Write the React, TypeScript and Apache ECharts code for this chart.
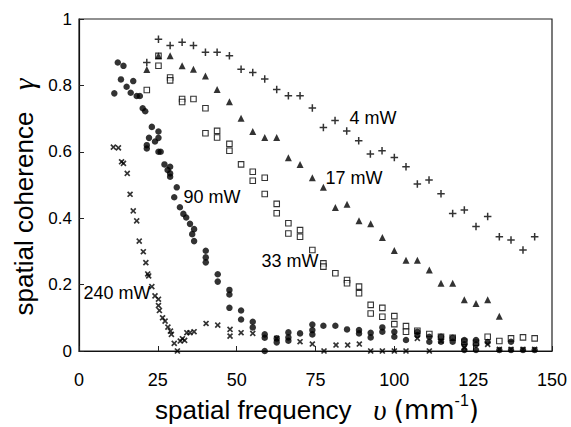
import React, { useEffect, useRef } from "react";
import * as echarts from "echarts";

// spatial frequency (mm^-1), spatial coherence gamma
const p4mW: number[][] = [
  [21.5, 0.869], [25.2, 0.939], [28.9, 0.92], [32.7, 0.93], [36.3, 0.92], [40.1, 0.9], [43.8, 0.9],
  [47.7, 0.889], [51.4, 0.849], [55.1, 0.839], [58.9, 0.819], [62.7, 0.788], [66.4, 0.769], [70.1, 0.769],
  [74.0, 0.732], [77.5, 0.673], [81.2, 0.694], [84.9, 0.663], [88.7, 0.633], [92.4, 0.593], [96.1, 0.603],
  [100.0, 0.583], [103.7, 0.555], [107.3, 0.503], [111.0, 0.515], [114.8, 0.474], [118.5, 0.414],
  [122.2, 0.425], [125.9, 0.375], [129.6, 0.405], [133.3, 0.344], [137.0, 0.334], [140.8, 0.304], [144.5, 0.344],
];

const p17mW: number[][] = [
  [21.5, 0.848], [25.2, 0.889], [28.9, 0.889], [32.7, 0.859], [36.3, 0.849], [40.1, 0.828], [43.8, 0.788],
  [47.7, 0.751], [51.4, 0.701], [55.1, 0.661], [58.9, 0.643], [62.7, 0.643], [66.4, 0.582], [70.1, 0.562],
  [74.0, 0.522], [77.5, 0.493], [81.3, 0.432], [85.0, 0.442], [88.8, 0.392], [92.5, 0.383], [96.2, 0.342],
  [100.0, 0.303], [103.7, 0.273], [107.3, 0.273], [111.1, 0.244], [114.8, 0.204], [118.5, 0.204],
  [122.2, 0.154], [125.9, 0.143], [129.6, 0.154], [133.3, 0.105],
];

const p33mW: number[][] = [
  [21.5, 0.786], [25.2, 0.859], [25.2, 0.889], [28.9, 0.824], [28.9, 0.815], [32.7, 0.759], [32.7, 0.75],
  [36.3, 0.759], [40.1, 0.731], [40.1, 0.656], [43.8, 0.663], [43.8, 0.643], [47.7, 0.624], [47.7, 0.603],
  [51.4, 0.562], [55.1, 0.54], [55.1, 0.513], [58.9, 0.522], [58.9, 0.473], [62.7, 0.443], [62.7, 0.415],
  [66.4, 0.385], [66.4, 0.354], [70.1, 0.364], [70.1, 0.344], [74.0, 0.304], [77.5, 0.264], [77.5, 0.254],
  [81.3, 0.234], [85.0, 0.214], [85.0, 0.204], [88.8, 0.194], [88.8, 0.174], [92.5, 0.139], [92.5, 0.113],
  [96.2, 0.13], [96.2, 0.103], [100.0, 0.105], [100.0, 0.081], [103.7, 0.075], [103.7, 0.058], [107.3, 0.061],
  [111.1, 0.051], [114.8, 0.043], [118.5, 0.04], [122.2, 0.028], [125.9, 0.025], [129.6, 0.043],
  [133.3, 0.03], [137.0, 0.038], [140.8, 0.041], [144.5, 0.038],
];

const p90mW: number[][] = [
  [11.2, 0.776], [12.3, 0.869], [13.3, 0.818], [14.1, 0.859], [15.1, 0.796], [16.4, 0.778], [17.2, 0.813],
  [18.3, 0.768], [19.3, 0.768], [20.2, 0.731], [21.0, 0.722], [21.5, 0.62], [21.5, 0.61], [22.2, 0.642],
  [23.1, 0.675], [24.1, 0.631], [25.2, 0.661], [25.2, 0.642], [25.2, 0.6], [25.9, 0.6], [27.1, 0.562],
  [28.1, 0.545], [28.9, 0.555], [28.9, 0.535], [28.9, 0.525], [31.0, 0.493], [30.2, 0.463], [32.0, 0.433],
  [33.1, 0.413], [34.0, 0.402], [35.2, 0.383], [36.5, 0.367], [35.9, 0.352], [36.5, 0.331], [40.2, 0.302],
  [40.2, 0.282], [40.2, 0.267], [44.0, 0.231], [44.0, 0.209], [47.7, 0.184], [47.7, 0.17], [47.7, 0.13],
  [51.4, 0.122], [51.4, 0.095], [55.1, 0.088], [55.1, 0.071], [58.9, 0.05], [58.9, 0.04], [58.9, 0.0],
  [62.7, 0.038], [62.7, 0.026], [66.4, 0.056], [66.4, 0.041], [66.4, 0.031], [70.1, 0.053], [74.0, 0.08],
  [74.0, 0.063], [74.0, 0.05], [77.5, 0.076], [81.3, 0.076], [85.0, 0.065], [88.8, 0.063], [88.8, 0.053],
  [92.5, 0.055], [92.5, 0.041], [96.2, 0.071], [96.2, 0.058], [100.0, 0.058], [100.0, 0.043], [103.7, 0.033],
  [107.3, 0.058], [107.3, 0.048], [111.1, 0.043], [111.1, 0.028], [114.8, 0.043], [114.8, 0.028],
  [118.5, 0.04], [118.5, 0.028], [122.2, 0.033], [122.2, 0.02], [125.9, 0.033], [125.9, 0.02], [129.6, 0.027],
  [137.0, 0.028], [122.2, 0.003], [125.9, 0.003], [133.3, 0.003], [137.0, 0.003], [140.8, 0.003], [144.5, 0.003],
];

const p240mW: number[][] = [
  [10.9, 0.614], [12.5, 0.612], [13.5, 0.57], [14.1, 0.565], [15.3, 0.535], [16.2, 0.472], [17.2, 0.422],
  [18.3, 0.392], [19.1, 0.331], [20.4, 0.299], [21.2, 0.266], [21.8, 0.232], [22.1, 0.226], [23.1, 0.194],
  [24.1, 0.166], [25.2, 0.156], [25.2, 0.137], [25.5, 0.122], [26.5, 0.1], [27.3, 0.09], [28.2, 0.072],
  [29.0, 0.06], [29.3, 0.05], [30.2, 0.023], [31.2, 0.0], [32.1, 0.03], [32.8, 0.037], [33.5, 0.032],
  [34.2, 0.055], [35.2, 0.055], [36.5, 0.058], [40.3, 0.083], [44.0, 0.078], [47.9, 0.065], [47.9, 0.045],
  [51.4, 0.055], [55.1, 0.053], [62.7, 0.038], [70.1, 0.028], [74.0, 0.021], [77.7, 0.0], [81.5, 0.018],
  [85.2, 0.018], [88.9, 0.021], [92.5, 0.0], [96.2, 0.0], [100.0, 0.0], [103.7, 0.0], [107.3, 0.038],
  [111.1, 0.0], [114.8, 0.03], [122.2, 0.01], [129.6, 0.02], [133.3, 0.005], [137.0, 0.005], [140.8, 0.005],
  [144.5, 0.005],
];

const seriesNames = ["4 mW", "17 mW", "33 mW", "90 mW", "240 mW"];

const PLUS = "path://M4,0H6V4H10V6H6V10H4V6H0V4H4Z";
const CROSS = "path://M3.8,0H6.2V3.8H10V6.2H6.2V10H3.8V6.2H0V3.8H3.8Z";

const labelFont = "Liberation Sans, Arial, sans-serif";
const wideFont = "DejaVu Sans, sans-serif";
const greekFont = "Liberation Serif, serif";

function seriesLabel(text: string, x: number, y: number) {
  return {
    type: "text",
    x,
    y,
    z: 100,
    style: {
      text,
      fontSize: 18,
      fontFamily: labelFont,
      fill: "#000",
      align: "center",
      verticalAlign: "middle",
      textAlign: "center",
      textVerticalAlign: "middle",
    },
  };
}

export default function App() {
  const ref = useRef<HTMLDivElement>(null);
  useEffect(() => {
    const chart = echarts.init(ref.current!, null, { renderer: "svg" });
    const option: any = {
      animation: false,
      backgroundColor: "#fff",
      grid: {
        left: 79,
        right: 19,
        top: 19,
        bottom: 76,
        show: true,
        borderColor: "#222",
        borderWidth: 1.2,
        backgroundColor: "transparent",
      },
      xAxis: {
        type: "value",
        min: 0,
        max: 150,
        interval: 25,
        axisLine: { show: true, lineStyle: { color: "#111", width: 1.2 } },
        axisTick: { show: true, inside: true, length: 5, lineStyle: { color: "#222" } },
        axisLabel: { color: "#000", fontSize: 18, fontFamily: labelFont, margin: 20 },
        splitLine: { show: false },
      },
      yAxis: {
        type: "value",
        min: 0,
        max: 1,
        interval: 0.2,
        axisLine: { show: true, lineStyle: { color: "#111", width: 1.2 } },
        axisTick: { show: true, inside: true, length: 5, lineStyle: { color: "#222" } },
        axisLabel: { color: "#000", fontSize: 17, fontFamily: labelFont, margin: 7 },
        splitLine: { show: false },
      },
      series: [
        {
          name: seriesNames[2],
          type: "scatter",
          data: p33mW,
          symbol: "rect",
          symbolSize: 5.5,
          itemStyle: { color: "#fff", borderColor: "#000", borderWidth: 1.1 },
        },
        {
          name: seriesNames[3],
          type: "scatter",
          data: p90mW,
          symbol: "circle",
          symbolSize: 6.5,
          itemStyle: { color: "#000" },
        },
        {
          name: seriesNames[1],
          type: "scatter",
          data: p17mW,
          symbol: "triangle",
          symbolSize: 7,
          itemStyle: { color: "#000" },
        },
        {
          name: seriesNames[0],
          type: "scatter",
          data: p4mW,
          symbol: PLUS,
          symbolSize: 7.5,
          itemStyle: { color: "#000" },
        },
        {
          name: seriesNames[4],
          type: "scatter",
          data: p240mW,
          symbol: CROSS,
          symbolSize: 7,
          symbolRotate: 45,
          itemStyle: { color: "#000" },
        },
      ],
      graphic: [
        seriesLabel(seriesNames[0], 373, 118),
        seriesLabel(seriesNames[1], 354, 178),
        seriesLabel(seriesNames[3], 212, 197),
        seriesLabel(seriesNames[2], 290, 261),
        seriesLabel(seriesNames[4], 117, 293),
        {
          type: "text",
          x: 317,
          y: 410,
          style: {
            text: "spatial frequency   {g|υ} {m|(mm}{s|-1}{m|)}",
            fontSize: 26,
            lineHeight: 36,
            fontFamily: labelFont,
            fill: "#000",
            align: "center",
            verticalAlign: "middle",
            textAlign: "center",
            textVerticalAlign: "middle",
            rich: {
              g: { fontSize: 29, fontFamily: greekFont, fontStyle: "italic", lineHeight: 36, fill: "#000" },
              m: { fontSize: 26, fontFamily: wideFont, lineHeight: 36, fill: "#000" },
              s: { fontSize: 16, fontFamily: labelFont, verticalAlign: "top", lineHeight: 16, fill: "#000" },
            },
          },
        },
        {
          type: "text",
          x: 24,
          y: 197,
          rotation: Math.PI / 2,
          style: {
            text: "spatial coherence   {g|γ}",
            fontSize: 26,
            lineHeight: 30,
            fontFamily: labelFont,
            fill: "#000",
            align: "center",
            verticalAlign: "middle",
            textAlign: "center",
            textVerticalAlign: "middle",
            rich: {
              g: { fontSize: 29, fontFamily: greekFont, fontStyle: "italic", lineHeight: 30, fill: "#000" },
            },
          },
        },
      ],
    };
    chart.setOption(option);
    return () => chart.dispose();
  }, []);
  return (
    <div
      ref={ref}
      style={{ position: "fixed", left: 0, top: 0, width: 571, height: 427, background: "#fff" }}
    />
  );
}
